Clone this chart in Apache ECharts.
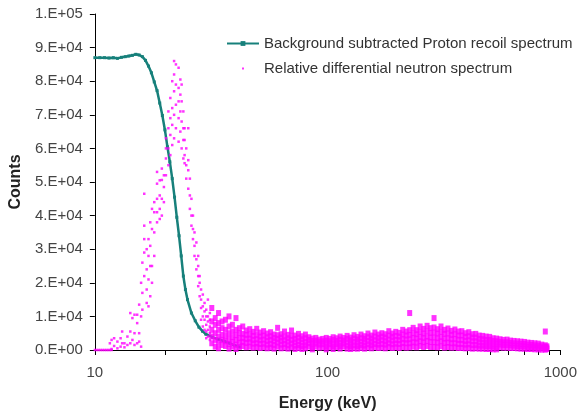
<!DOCTYPE html>
<html>
<head>
<meta charset="utf-8">
<script src="https://cdn.jsdelivr.net/npm/echarts@6/dist/echarts.min.js"></script>
<style>
  html, body { margin: 0; padding: 0; background: #fff; }
  #main { width: 580px; height: 418px; }
</style>
</head>
<body>
<div id="main"></div>
<script>
// proton recoil spectrum (background subtracted)
let protonEnergy = [10, 10.5, 11, 11.5, 12, 12.5, 13, 13.5, 14, 14.5, 15, 15.5, 16, 16.5, 17, 17.5,
  18, 18.5, 19, 19.5, 20, 20.5, 21, 21.5, 22, 22.5, 23, 23.5, 24, 24.5, 25, 26, 27, 28, 29, 30,
  32, 34, 36, 38, 40, 42]
let protonCounts = [87000, 87000, 87000, 86900, 87000, 86800, 87100, 87300, 87500, 87700, 88000, 87800,
  87300, 86200, 84500, 82500, 79800, 77200, 73500, 69800, 65500, 60500, 56000, 51000, 45500, 39500,
  34000, 28000, 22000, 18000, 15000, 11000, 8700, 6800, 5600, 4700, 3800, 3200, 2600, 2000, 1300, 900]

// relative differential neutron spectrum: [energy, counts, counts, ...]
let neutronPeak = [
  [10, 0], [10.2, 0], [10.4, 0], [10.6, 0], [10.8, 0], [11, 0], [11.2, 0], [11.4, 0], [11.6, 0, 2000],
  [11.8, 0, 300, 3000], [12.1, 3500, 1200], [12.5, 2500, 500], [12.9, 3500, 1000], [13.1, 5500, 2000],
  [13.4, 2000, 800], [13.8, 4000, 1500], [14.2, 11000, 5500, 2000], [14.5, 9500, 3000],
  [14.8, 10500, 5000, 1500], [15.2, 8000, 10500, 2000], [15.5, 13500, 5000, 2500],
  [15.8, 20000, 10000, 1000], [16.0, 26000, 17000, 12000], [16.3, 46500, 37000, 33000, 29000, 22000],
  [16.7, 30000, 24000, 18000, 14000], [17.0, 33000, 28000, 21000, 13000], [17.3, 38000, 31000, 25000, 16000],
  [17.6, 42000, 36000, 25000, 20000], [18.0, 44000, 41000, 35000, 28000],
  [18.5, 53000, 49500, 45000, 41000, 38000], [19.0, 50500, 46000, 42000, 39000],
  [19.4, 54000, 50600, 45000, 40000], [19.8, 52000, 48500, 44000], [20.2, 63000, 60000, 57000, 52000],
  [20.7, 71000, 66000, 60000, 55000], [21.1, 75000, 69000, 64000, 58000], [21.5, 80000, 72000, 67000, 61000],
  [21.9, 86000, 82000, 77000, 70000, 63000], [22.3, 85000, 79000, 73000, 66000],
  [22.9, 84000, 78000, 74000, 69000, 62000], [23.3, 80500, 76000, 71000, 65000],
  [23.6, 79000, 74000, 68000, 60000], [24.0, 71000, 66000, 62500, 57000],
  [24.3, 66000, 62500, 58000, 55600], [24.7, 60000, 55000, 51000], [25.2, 66000, 56500, 53500, 48000],
  [25.6, 51000, 46000, 42000], [26.0, 45000, 40000, 37000], [26.4, 40000, 36000, 33000],
  [26.8, 35000, 31000, 28000], [27.3, 32000, 27000, 24000], [27.8, 28000, 25000, 22000, 19000],
  [28.2, 22000, 20000, 16000], [28.6, 18000, 15000, 12500, 9000], [29.1, 16500, 13000, 10000, 7000],
  [29.6, 14000, 11500, 9000, 6000], [30.1, 12000, 10000, 7500, 5500, 3500],
  [30.6, 15000, 10000, 8500, 6000, 4000], [31.2, 11000, 9000, 7000, 5000, 3000]
]
let neutronTail = [
  [31.8, 12500, 8500, 6000, 4000, 2000], [32.9, 9500, 7500, 5000, 3000, 1000],
  [34.0, 11000, 8000, 6000, 4000, 2200, 500], [35.2, 8500, 6500, 4500, 3000, 1500],
  [36.4, 9000, 6000, 4200, 2600, 1200], [37.7, 10000, 7000, 5000, 3300, 1800, 400],
  [39.0, 7500, 5500, 3800, 2400, 1000], [40.4, 9500, 6000, 4400, 3000, 1600, 300],
  [41.8, 6500, 5000, 3500, 2200, 900], [43.2, 7000, 4800, 3600, 2400, 1200],
  [44.7, 5800, 4500, 3300, 2100, 800], [46.3, 6200, 4600, 3400, 2300, 1000],
  [47.9, 5400, 4200, 3000, 1900, 700], [49.6, 6300, 4500, 3200, 2000, 900],
  [51.3, 5200, 4000, 2900, 1800, 600], [53.1, 5600, 4300, 3100, 1900, 800],
  [55.0, 4900, 3800, 2700, 1600, 500], [56.9, 5300, 4100, 3000, 1800, 700],
  [58.9, 4600, 3600, 2600, 1500, 400], [61.0, 6600, 4400, 3300, 2200, 1000],
  [63.1, 4700, 3700, 2700, 1600, 500], [65.3, 5500, 4000, 2900, 1800, 700],
  [67.6, 4500, 3500, 2500, 1400, 400], [70.0, 5800, 4200, 3000, 1900, 800],
  [72.4, 4300, 3300, 2300, 1300, 300], [75.0, 4800, 3700, 2600, 1500, 600],
  [77.6, 4100, 3200, 2200, 1200, 300], [80.3, 4600, 3500, 2400, 1400, 500],
  [83.1, 3800, 3000, 2000, 1000], [86.0, 3400, 2700, 1800, 900, 200],
  [89.0, 3600, 2800, 1900, 1000], [92.1, 3100, 2500, 1600, 700],
  [95.3, 3300, 2600, 1700, 800], [98.7, 3600, 2800, 1900, 1000, 200],
  [102.1, 3300, 2600, 1700, 800], [105.7, 3800, 3000, 2000, 1100, 300],
  [109.4, 3500, 2700, 1800, 900], [113.2, 4000, 3100, 2100, 1200, 400],
  [117.2, 3600, 2800, 1900, 1000], [121.3, 4200, 3300, 2300, 1300, 400],
  [125.5, 3700, 2900, 2000, 1100, 300], [129.9, 4400, 3400, 2400, 1400, 500],
  [134.5, 3900, 3100, 2200, 1200, 400], [139.2, 4600, 3500, 2500, 1500, 600],
  [144.1, 4100, 3300, 2300, 1300, 400], [149.1, 4900, 3800, 2700, 1700, 700],
  [154.3, 4300, 3400, 2400, 1400, 500], [159.7, 5200, 4000, 2900, 1800, 800],
  [165.3, 4600, 3600, 2600, 1600, 600], [171.1, 5000, 4000, 2900, 1800, 700],
  [177.1, 4700, 3700, 2600, 1600, 500], [183.3, 5600, 4300, 3100, 2000, 900],
  [189.7, 4900, 3900, 2800, 1700, 600], [196.3, 5400, 4200, 3000, 1900, 800],
  [203.2, 5100, 4000, 2900, 1800, 600], [210.3, 6000, 4600, 3300, 2100, 900],
  [217.7, 5500, 4300, 3100, 2000, 700], [225.3, 11000, 5900, 4500, 3200, 2000, 800],
  [233.2, 6600, 5000, 3600, 2300, 1000], [241.4, 5900, 4700, 3400, 2200, 800],
  [249.8, 7000, 5400, 3900, 2600, 1200], [258.6, 6300, 4900, 3600, 2300, 900],
  [267.6, 7200, 5600, 4000, 2700, 1200], [277.0, 6500, 5100, 3700, 2400, 900],
  [286.7, 9500, 6700, 5200, 3700, 2300, 900], [296.7, 6200, 4900, 3500, 2200, 800],
  [307.1, 7000, 5400, 3900, 2600, 1100], [317.8, 6000, 4800, 3400, 2100, 700],
  [329.0, 6400, 4900, 3500, 2200, 900], [340.5, 5700, 4500, 3200, 2000, 700],
  [352.4, 6100, 4700, 3300, 2000, 800], [364.7, 5500, 4300, 3000, 1800, 600],
  [377.5, 5600, 4300, 3000, 1800, 600], [390.7, 5000, 3900, 2700, 1600, 500],
  [404.4, 5300, 4100, 2900, 1700, 600], [418.5, 4700, 3700, 2600, 1500, 400],
  [433.2, 4800, 3700, 2600, 1500, 500], [448.3, 4300, 3300, 2300, 1300, 400],
  [464.0, 4200, 3200, 2200, 1300, 400], [480.3, 4000, 3000, 2100, 1200, 300],
  [497.1, 3900, 3000, 2100, 1200, 300], [514.5, 3500, 2700, 1800, 1000, 200],
  [532.5, 3400, 2600, 1800, 900, 200], [551.1, 3200, 2400, 1600, 800],
  [570.4, 3000, 2300, 1500, 700], [590.4, 3100, 2300, 1500, 700],
  [611.0, 2800, 2100, 1400, 600], [632.4, 2700, 2000, 1300, 600],
  [654.6, 2600, 1900, 1200, 500], [677.5, 2500, 1800, 1100, 400],
  [701.2, 2400, 1800, 1100, 400], [725.7, 2200, 1600, 900, 300],
  [751.1, 2100, 1500, 900, 300], [777.4, 2000, 1400, 800, 200],
  [804.6, 1900, 1300, 700, 200], [832.8, 1600, 1100, 600, 100],
  [862.0, 5500, 1400, 900, 400, 100], [875.0, 1100, 700, 300]
]

// x axis: labelled decades and the tick marks in between
let xLabelValues = [10, 100, 1000]
let xTickValues = [10, 20, 30, 40, 50, 60, 70, 80, 90, 100, 200, 300, 400, 500, 600, 700, 800, 900, 1000]

let seriesNames = ['Background subtracted Proton recoil spectrum', 'Relative differential neutron spectrum']

let protonData = protonEnergy.map((e, i) => [e, protonCounts[i]])
let neutronData = []
neutronPeak.concat(neutronTail).forEach(col => {
  for (let i = 1; i < col.length; i++) neutronData.push([col[0], col[i]])
})

// 1.E+04 style labels like the spreadsheet
function sci (v) {
  if (v === 0) return '0.E+00'
  let e = Math.floor(Math.log10(v) + 1e-9)
  let m = Math.round(v / Math.pow(10, e))
  return m + '.E+' + (e < 10 ? '0' + e : e)
}

let font = 'Liberation Sans'
let myChart = echarts.init(document.getElementById('main'))
myChart.setOption({
  animation: false,
  backgroundColor: '#fff',
  grid: { left: 92, right: 17, top: 14, bottom: 68 },
  legend: {
    orient: 'vertical',
    left: 221,
    top: 31,
    itemWidth: 32,
    itemHeight: 6,
    itemGap: 10,
    textStyle: { fontFamily: font, fontSize: 15, color: '#333' },
    data: [
      { name: seriesNames[0] },
      // small dot in the middle of the icon box
      { name: seriesNames[1], icon: 'path://M0,0M32,6M15,2h2v2h-2z' }
    ]
  },
  xAxis: [
    {
      type: 'log',
      logBase: 10,
      min: 10,
      max: 1000,
      name: 'Energy (keV)',
      nameLocation: 'middle',
      nameGap: 46,
      nameTextStyle: { fontFamily: font, fontSize: 16, fontWeight: 'bold', color: '#222' },
      axisLine: { show: true, lineStyle: { color: '#000', width: 1 } },
      axisTick: { show: false },
      axisLabel: {
        fontFamily: font,
        fontSize: 15,
        color: '#444',
        margin: 15,
        customValues: xLabelValues,
        formatter: v => String(v)
      },
      splitLine: { show: false }
    },
    {
      // second bottom axis only carries the tick marks
      type: 'log',
      logBase: 10,
      min: 10,
      max: 1000,
      position: 'bottom',
      axisLine: { show: false },
      axisLabel: { show: false },
      axisTick: { show: true, length: 5, customValues: xTickValues, lineStyle: { color: '#000', width: 1 } },
      splitLine: { show: false }
    }
  ],
  yAxis: {
    type: 'value',
    min: 0,
    max: 100000,
    interval: 10000,
    name: 'Counts',
    nameLocation: 'middle',
    nameGap: 66,
    nameTextStyle: { fontFamily: font, fontSize: 16, fontWeight: 'bold', color: '#222' },
    axisLine: { show: true, lineStyle: { color: '#000', width: 1 } },
    axisTick: { show: true, length: 5, lineStyle: { color: '#000' } },
    axisLabel: { fontFamily: font, fontSize: 15, color: '#444', margin: 12, formatter: sci },
    splitLine: { show: false }
  },
  series: [
    {
      name: seriesNames[0],
      type: 'line',
      xAxisIndex: 0,
      data: protonData,
      color: '#17807b',
      symbol: 'rect',
      symbolSize: 3,
      lineStyle: { width: 2.5, color: '#17807b' },
      z: 2
    },
    {
      name: seriesNames[1],
      type: 'scatter',
      xAxisIndex: 0,
      data: neutronData,
      color: '#ff00ff',
      symbol: 'rect',
      // dense tail drawn larger so it reads as a filled band
      symbolSize: val => (val[0] > 31.5 ? [5, 6] : 2.5),
      itemStyle: { color: '#ff00ff' },
      z: 3
    }
  ]
})
</script>
</body>
</html>
